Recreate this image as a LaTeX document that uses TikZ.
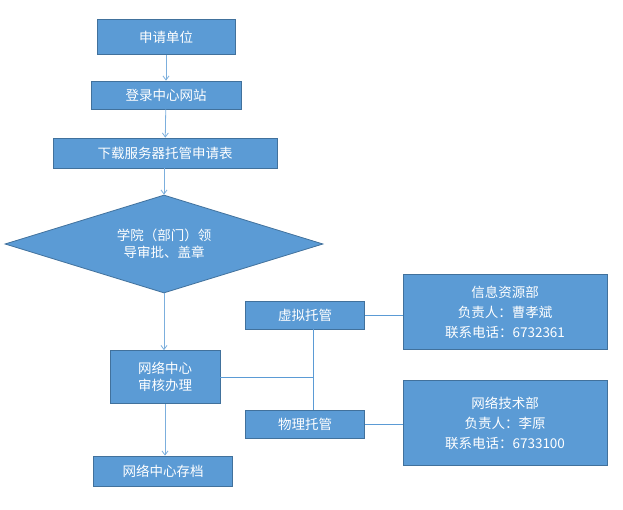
\documentclass[tikz,border=0pt]{standalone}
\usepackage{fontspec}
\setmainfont{Noto Sans CJK SC}
\usetikzlibrary{shapes.geometric,arrows.meta}
\definecolor{bx}{HTML}{5B9BD5}
\definecolor{bd}{HTML}{41719C}
\definecolor{ln}{HTML}{5B9BD5}
\begin{document}
\begin{tikzpicture}[x=1pt,y=-1pt,
  box/.style={draw=bd,fill=bx,text=white,font=\fontsize{13.5}{17}\selectfont,inner sep=0,line width=0.8pt,align=center},
  ar/.style={draw=ln!80,line width=0.8pt,-{Straight Barb[length=4pt,width=6pt]}},
  ln/.style={draw=ln,line width=0.8pt}]
\useasboundingbox (0,0) rectangle (623,510);
\node[box,minimum width=138,minimum height=35] (a) at (166,37) {申请单位};
\node[box,minimum width=150,minimum height=28] (b) at (166,95) {登录中心网站};
\node[box,minimum width=224,minimum height=30] (c) at (165,153) {下载服务器托管申请表};
\node[box,diamond,aspect=3.24,minimum width=318,minimum height=98] (d) at (164,244) {学院（部门）领\\导审批、盖章};
\node[box,minimum width=110,minimum height=53] (e) at (165,377) {网络中心\\审核办理};
\node[box,minimum width=139,minimum height=30] (f) at (163,471) {网络中心存档};
\node[box,minimum width=119,minimum height=28] (v) at (305,315) {虚拟托管};
\node[box,minimum width=119,minimum height=28] (p) at (305,424) {物理托管};
\node[box,minimum width=204,minimum height=75,font=\fontsize{13.5}{20}\selectfont] (x) at (505,312) {信息资源部\\负责人：曹孝斌\\联系电话：6732361};
\node[box,minimum width=204,minimum height=85,font=\fontsize{13.5}{20}\selectfont] (y) at (505,423) {网络技术部\\负责人：李原\\联系电话：6733100};
\coordinate (j) at (313,377);
\draw[ar] (a) -- (b);
\draw[ar] (b) -- (c);
\draw[ar] (c.south -| d.north) -- (d.north);
\draw[ar] (d.south) -- (e.north -| d.south);
\draw[ar] (e.south -| f.north) ++(2,0) -- ([xshift=2]f.north);
\draw[ln] (e.east) -- (j);
\draw[ln] (v.south -| j) -- (p.north -| j);
\draw[ln] (v.east) -- (x.west |- v.east);
\draw[ln] (p.east) -- (y.west |- p.east);
\end{tikzpicture}
\end{document}
